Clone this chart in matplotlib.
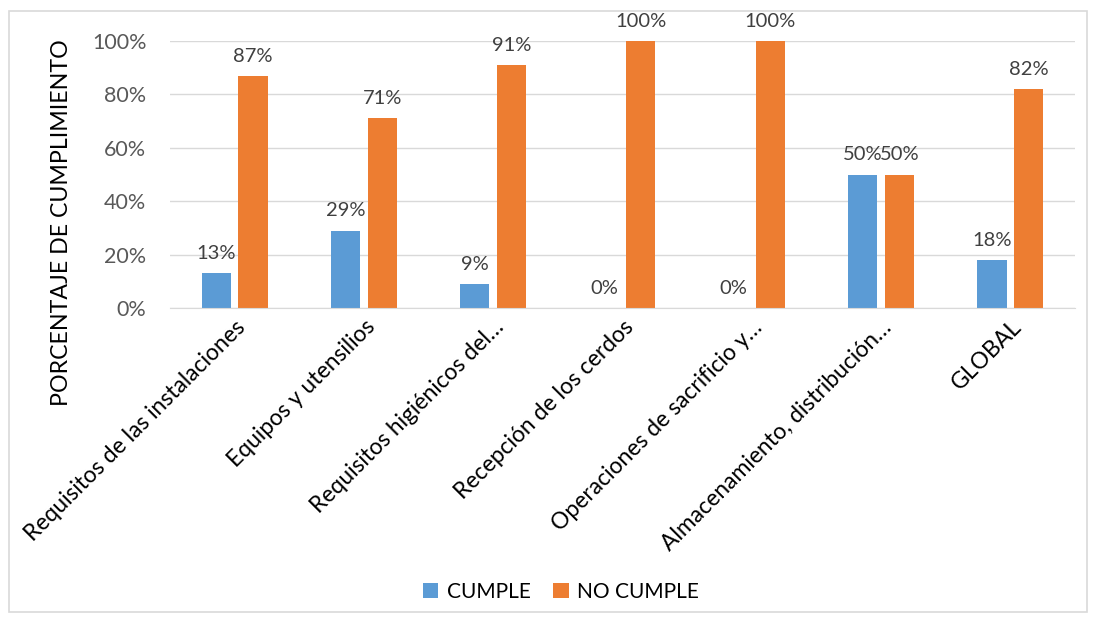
import matplotlib
matplotlib.use("Agg")
import matplotlib.pyplot as plt
import numpy as np
from matplotlib.patches import Rectangle

plt.rcParams['font.family'] = ['Lato', 'DejaVu Sans']

categories = ["Requisitos de las instalaciones", "Equipos y utensilios", "Requisitos higiénicos del…",
              "Recepción de los cerdos", "Operaciones de sacrificio y…", "Almacenamiento, distribución…", "GLOBAL"]
cumple = [13, 29, 9, 0, 0, 50, 18]
no_cumple = [87, 71, 91, 100, 100, 50, 82]
series_names = ["CUMPLE", "NO CUMPLE"]
colors = ["#5B9BD5", "#ED7D31"]

fig = plt.figure(figsize=(10.96, 6.23), dpi=100)
fig.patches.append(Rectangle((0.008, 0.018), 0.984, 0.965, transform=fig.transFigure,
                             fill=False, edgecolor="#D9D9D9", linewidth=1.2))
ax = fig.add_axes([170/1096, 1-308/623, 905/1096, 267/623])

x = np.arange(len(categories))
w = 0.225
off = 0.142
b1 = ax.bar(x - off, cumple, w, color=colors[0], label=series_names[0])
b2 = ax.bar(x + off, no_cumple, w, color=colors[1], label=series_names[1])
for bars, vals in ((b1, cumple), (b2, no_cumple)):
    for r, v in zip(bars, vals):
        ax.annotate(f"{v}%", (r.get_x() + r.get_width()/2, v), xytext=(0, 8),
                    textcoords="offset points", ha="center", va="bottom",
                    fontsize=14.5, color="#404040")

ax.set_xlim(-0.5, len(categories) - 0.5)
ax.set_ylim(0, 100)
ax.set_yticks(np.arange(0, 101, 20))
ax.set_yticklabels([f"{v}%" for v in range(0, 101, 20)], fontsize=15.5, color="#595959")
ax.yaxis.grid(True, color="#D9D9D9", linewidth=1)
ax.set_axisbelow(True)
for s in ["top", "right", "left"]:
    ax.spines[s].set_visible(False)
ax.spines["bottom"].set_color("#D9D9D9")
ax.tick_params(axis="both", length=0)
ax.tick_params(axis="y", pad=17)
ax.set_xticks(x)
ax.set_xticklabels(categories, rotation=45, ha="right", rotation_mode="anchor",
                   fontsize=16.5, color="black")
ax.tick_params(axis="x", pad=6)
ax.set_ylabel("PORCENTAJE DE CUMPLIMIENTO", fontsize=16.7, color="black")
ax.yaxis.set_label_coords(-98/905, 0.32)

fig.legend(handles=[b1, b2], labels=series_names, loc="center", bbox_to_anchor=(561/1096, 1-592/623),
           ncol=2, frameon=False, fontsize=15, handlelength=0.75, handleheight=0.75,
           columnspacing=1.1, handletextpad=0.4)

fig.savefig("out.png", dpi=100)
